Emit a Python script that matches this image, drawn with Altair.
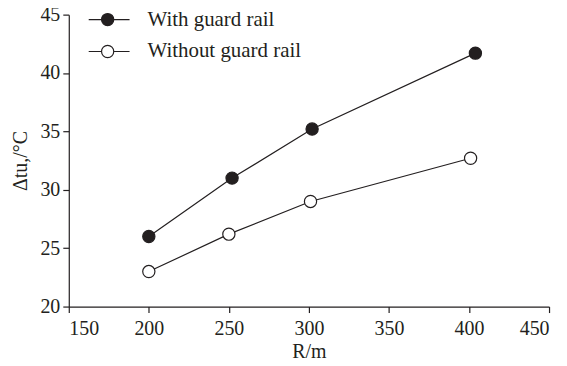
import altair as alt
import pandas as pd

r_with = [200, 252, 302, 404]
t_with = [26.0, 31.0, 35.2, 41.7]
r_without = [200, 250, 301, 401]
t_without = [23.0, 26.2, 29.0, 32.7]
x_ticks = [150, 200, 250, 300, 350, 400, 450]
y_ticks = [20, 25, 30, 35, 40, 45]
series_names = ["With guard rail", "Without guard rail"]

df = pd.DataFrame({
    "R": r_with + r_without,
    "T": t_with + t_without,
    "series": [series_names[0]] * len(r_with) + [series_names[1]] * len(r_without),
})

FONT = "Times New Roman, Liberation Serif, serif"
INK = "#231f20"
FS = 20

x = alt.X("R:Q", scale=alt.Scale(domain=[150, 450], nice=False),
          axis=alt.Axis(values=x_ticks, title="R/m", grid=False, tickSize=6,
                        labelFontSize=FS, titleFontSize=FS, labelFont=FONT, titleFont=FONT,
                        titleFontWeight="normal", labelColor=INK, titleColor=INK,
                        domainColor=INK, tickColor=INK, labelPadding=6, titlePadding=3))
y = alt.Y("T:Q", scale=alt.Scale(domain=[20, 45], nice=False),
          axis=alt.Axis(values=y_ticks, title="Δtu,/°C", grid=False, tickSize=6,
                        labelFontSize=FS, titleFontSize=FS, labelFont=FONT, titleFont=FONT,
                        titleFontWeight="normal", labelColor=INK, titleColor=INK,
                        domainColor=INK, tickColor=INK, labelPadding=3, titlePadding=9))

fill_scale = alt.Scale(domain=series_names, range=[INK, "#ffffff"])

base = alt.Chart(df)
lines = base.mark_line(color=INK, strokeWidth=1.2).encode(x=x, y=y, detail="series:N")
pts = base.mark_point(filled=True, size=150, strokeWidth=1.2, stroke=INK, opacity=1).encode(
    x=x, y=y, fill=alt.Fill("series:N", scale=fill_scale, legend=None))
data_layer = alt.layer(lines, pts)

# manual legend
leg = pd.DataFrame({"label": series_names, "row": [0, 1]})
lb = alt.Chart(leg)
yrow = alt.Y("row:Q", scale=alt.Scale(domain=[0, 1], range=[5, 37]), axis=None)
leg_line = lb.mark_rule(color=INK, strokeWidth=1.2).encode(
    x=alt.value(20), x2=alt.value(61), y=yrow)
leg_pt = lb.mark_point(filled=True, size=150, strokeWidth=1.2, stroke=INK, opacity=1).encode(
    x=alt.value(39), y=yrow, fill=alt.Fill("label:N", scale=fill_scale, legend=None))
leg_txt = lb.mark_text(align="left", baseline="middle", font=FONT, fontSize=21, color=INK).encode(
    x=alt.value(79), y=yrow, text="label:N")
legend_layer = alt.layer(leg_line, leg_pt, leg_txt)

chart = alt.layer(data_layer, legend_layer).resolve_scale(y="independent").properties(
    width=482, height=293,
    autosize=alt.AutoSizeParams(type="none"),
    padding={"left": 61, "top": 6, "right": 10, "bottom": 60},
).configure_view(stroke=None).configure_axis(domainWidth=1.2, tickWidth=1.2)

chart.save("out.html", embed_options={"renderer": "svg", "actions": False})
